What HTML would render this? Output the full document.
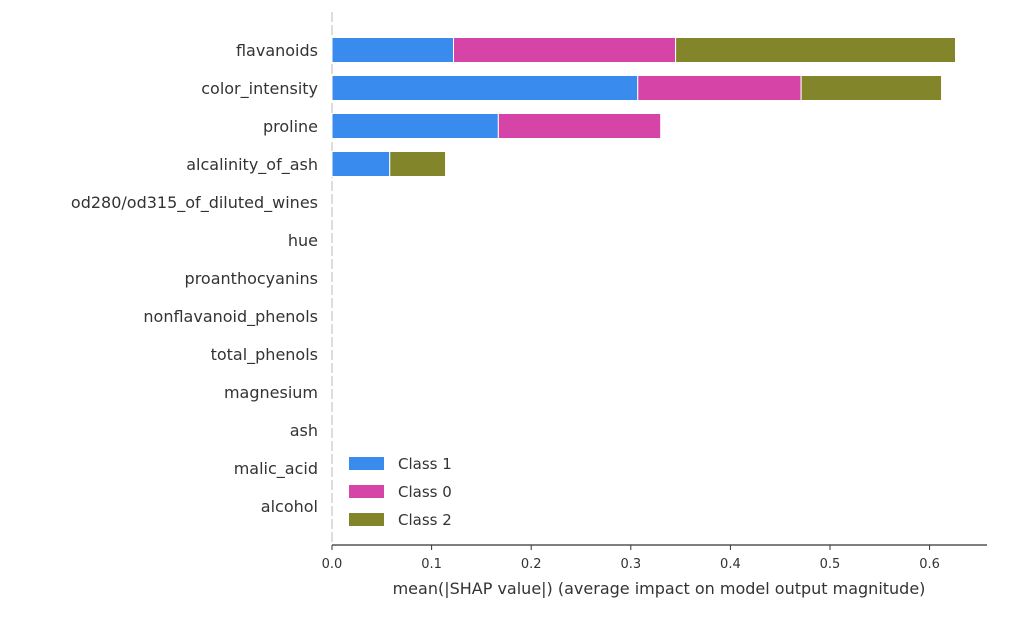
<!DOCTYPE html>
<html><head><meta charset="utf-8"><style>
html,body{margin:0;padding:0;background:#fff;}
svg text{font-family:"DejaVu Sans","Liberation Sans",sans-serif;fill:#333;}
</style></head><body>
<svg width="1024" height="618" viewBox="0 0 1024 618">
<g id="plot"></g>
</svg>
<script>
const features=["flavanoids","color_intensity","proline","alcalinity_of_ash","od280/od315_of_diluted_wines","hue","proanthocyanins","nonflavanoid_phenols","total_phenols","magnesium","ash","malic_acid","alcohol"];
const class1=[0.122,0.307,0.167,0.058,0,0,0,0,0,0,0,0,0];
const class0=[0.223,0.164,0.163,0,0,0,0,0,0,0,0,0,0];
const class2=[0.281,0.141,0,0.056,0,0,0,0,0,0,0,0,0];
const ticks=[0,0.1,0.2,0.3,0.4,0.5,0.6];
const tickLabels=["0.0","0.1","0.2","0.3","0.4","0.5","0.6"];
const seriesNames=["Class 1","Class 0","Class 2"];
const colors=["#3a8bee","#d644a8","#82852a"];
const NS="http://www.w3.org/2000/svg";
const g=document.getElementById('plot');
const x0=332,pxPer=996;
const X=v=>x0+v*pxPer;
const Y=i=>50+i*38;
function mk(t,a){const e=document.createElementNS(NS,t);for(const k in a)e.setAttribute(k,a[k]);g.appendChild(e);return e;}
// spine
let e=mk('line',{x1:332,y1:12,x2:332,y2:545,stroke:'#bbb','stroke-width':1,'stroke-dasharray':'10,3'});


e=mk('line',{x1:332,y1:545,x2:987,y2:545,stroke:'#333','stroke-width':1.2});


const series=[class1,class0,class2];
features.forEach((f,i)=>{
  const t=mk('text',{x:318,y:Y(i)+6,'text-anchor':'end','font-size':16});
  t.textContent=f;
  
  
  let acc=0;
  series.forEach((s,k)=>{
    if(s[i]>0){
      const r=mk('rect',{x:X(acc),y:Y(i)-12.5,width:X(acc+s[i])-X(acc),height:25,fill:colors[k],stroke:'#fff','stroke-width':1});
      
      
      acc+=s[i];
    }
  });
});
ticks.forEach((v,i)=>{
  const l=mk('line',{x1:X(v),y1:545,x2:X(v),y2:550,stroke:'#333'});
  
  
  const t=mk('text',{x:X(v),y:568,'text-anchor':'middle','font-size':13});
  t.textContent=tickLabels[i];
  
  
});
e=mk('text',{x:659,y:594,'text-anchor':'middle','font-size':16});
e.textContent='mean(|SHAP value|) (average impact on model output magnitude)';


seriesNames.forEach((n,k)=>{
  const r=mk('rect',{x:349,y:457+k*28,width:35,height:13,fill:colors[k]});
  
  
  const t=mk('text',{x:398,y:469+k*28,'font-size':15});
  t.textContent=n;
  
  
});
</script>
</body></html>
